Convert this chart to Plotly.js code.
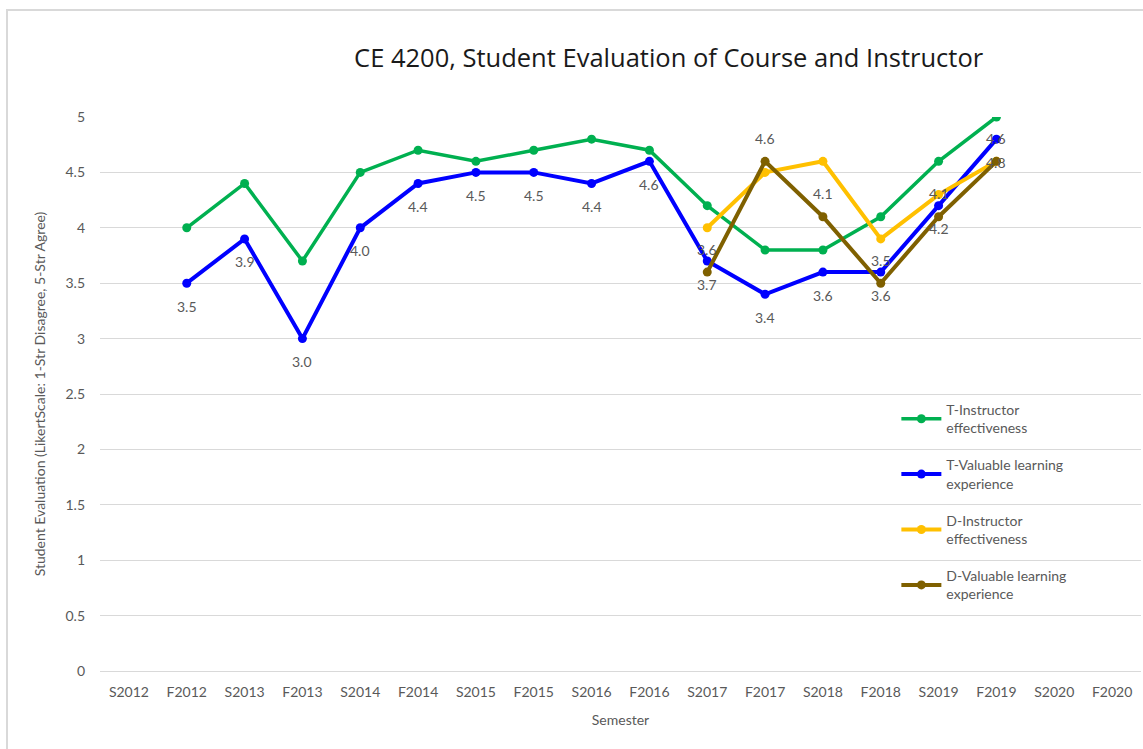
<!DOCTYPE html>
<html>
<head>
<meta charset="utf-8">
<script src="https://cdn.plot.ly/plotly-3.0.1.min.js"></script>
<style>
  html, body { margin: 0; padding: 0; background: #ffffff; }
  #chart { position: absolute; left: 0; top: 0; width: 1143px; height: 749px; }
  #frame { position: absolute; left: 6px; top: 9px; width: 1150px; height: 760px;
           border-left: 2px solid #d9d9d9; border-top: 2px solid #d9d9d9; pointer-events: none; }
</style>
</head>
<body>
<div id="chart"></div>
<div id="frame"></div>
<script>
const semesters = ["S2012","F2012","S2013","F2013","S2014","F2014","S2015","F2015","S2016","F2016","S2017","F2017","S2018","F2018","S2019","F2019","S2020","F2020"];
const tInstructor = [null,4.0,4.4,3.7,4.5,4.7,4.6,4.7,4.8,4.7,4.2,3.8,3.8,4.1,4.6,5.0,null,null];
const tValuable   = [null,3.5,3.9,3.0,4.0,4.4,4.5,4.5,4.4,4.6,3.7,3.4,3.6,3.6,4.2,4.8,null,null];
const dInstructor = [null,null,null,null,null,null,null,null,null,null,4.0,4.5,4.6,3.9,4.3,4.6,null,null];
const dValuable   = [null,null,null,null,null,null,null,null,null,null,3.6,4.6,4.1,3.5,4.1,4.6,null,null];
const seriesNames = ["T-Instructor<br>effectiveness","T-Valuable learning<br>experience","D-Instructor<br>effectiveness","D-Valuable learning<br>experience"];
const yTicks = [0,0.5,1,1.5,2,2.5,3,3.5,4,4.5,5];

const FONT = "Lato, 'Open Sans', sans-serif";
const GREY = "#595959";

function trace(y, name, color, width, group) {
  return {
    type: "scatter", mode: "lines+markers", x: semesters, y: y, name: name,
    legendgroup: group,
    line: {color: color, width: width},
    marker: {color: color, size: 9},
    connectgaps: false, hoverinfo: "x+y"
  };
}

const data = [
  trace(tInstructor, seriesNames[0], "#00B050", 3.5, "g1"),
  trace(tValuable,   seriesNames[1], "#0000FF", 4, "g2"),
  trace(dInstructor, seriesNames[2], "#FFC000", 4, "g3"),
  trace(dValuable,   seriesNames[3], "#7F6000", 4, "g4")
];

const annotations = [];
semesters.forEach((s, i) => {
  if (tValuable[i] !== null) {
    annotations.push({x: s, y: tValuable[i], text: tValuable[i].toFixed(1), showarrow: false,
      yshift: -23, font: {family: FONT, size: 14, color: GREY}});
  }
  if (dValuable[i] !== null) {
    annotations.push({x: s, y: dValuable[i], text: dValuable[i].toFixed(1), showarrow: false,
      yshift: 23, font: {family: FONT, size: 14, color: GREY}});
  }
});

const layout = {
  width: 1143, height: 749,
  margin: {l: 100, r: 2, t: 117, b: 78},
  paper_bgcolor: "rgba(0,0,0,0)",
  plot_bgcolor: "rgba(0,0,0,0)",
  font: {family: FONT, size: 14, color: GREY},
  title: {text: "CE 4200, Student Evaluation of Course and Instructor",
          font: {family: "'Open Sans', sans-serif", size: 25.5, color: "#1a1a1a"},
          x: 0.585, xref: "container", xanchor: "center",
          y: 62, yref: "container", yanchor: "middle"},
  xaxis: {
    type: "category", categoryorder: "array", categoryarray: semesters,
    tickvals: semesters, ticktext: semesters,
    range: [-0.5, semesters.length - 0.5],
    showgrid: false, zeroline: false, showline: true, linecolor: "#d9d9d9", linewidth: 1,
    ticks: "", ticklabelstandoff: 8,
    tickfont: {family: FONT, size: 14, color: GREY},
    title: {text: "Semester", font: {family: FONT, size: 14, color: GREY}, standoff: 16}
  },
  yaxis: {
    range: [0, 5], tickvals: yTicks, ticktext: yTicks.map(String),
    showgrid: true, gridcolor: "#d9d9d9", gridwidth: 1, zeroline: false, showline: false,
    ticks: "", ticklabelstandoff: 14,
    tickfont: {family: FONT, size: 14, color: GREY},
    title: {text: "Student Evaluation (LikertScale: 1-Str Disagree, 5-Str Agree)",
            font: {family: FONT, size: 14, color: GREY}, standoff: 16}
  },
  legend: {
    x: 0.765, y: 0.5, xanchor: "left", yanchor: "top",
    bgcolor: "rgba(0,0,0,0)", borderwidth: 0,
    font: {family: FONT, size: 14, color: GREY},
    tracegroupgap: 16, itemwidth: 40
  },
  annotations: annotations,
  showlegend: true
};

Plotly.newPlot("chart", data, layout, {displayModeBar: false, staticPlot: true});
</script>
</body>
</html>
